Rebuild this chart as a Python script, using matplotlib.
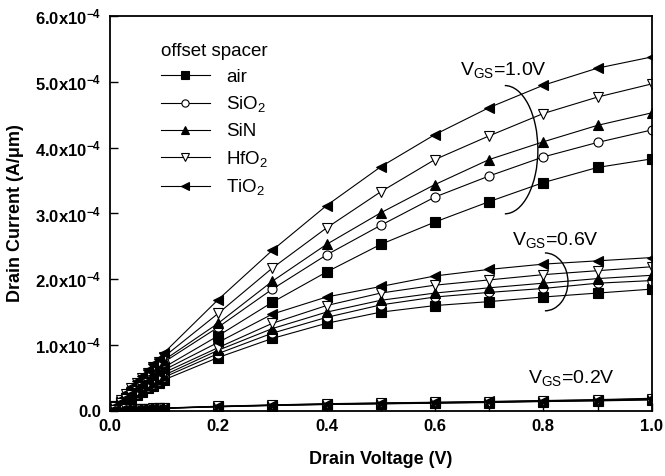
import matplotlib
matplotlib.use('Agg')
import matplotlib.pyplot as plt
from matplotlib.patches import Arc
from matplotlib.ticker import FuncFormatter, MultipleLocator

plt.rcParams['font.family'] = ['Liberation Sans', 'DejaVu Sans']
plt.rcParams['mathtext.default'] = 'regular'

# drain voltage (V)
vd = [0.0, 0.01, 0.02, 0.03, 0.04, 0.05, 0.06, 0.07, 0.08, 0.09, 0.1,
      0.2, 0.3, 0.4, 0.5, 0.6, 0.7, 0.8, 0.9, 1.0]

# drain current in units of 1e-4 A/um, VGS = 1.0 V
air_10 = [0, .07, .13, .20, .27, .33, .40, .46, .53, .59, .66,
          1.14, 1.65, 2.11, 2.53, 2.87, 3.18, 3.47, 3.70, 3.83]
sio2_10 = [0, .07, .15, .22, .30, .37, .45, .52, .59, .67, .74,
           1.27, 1.85, 2.37, 2.82, 3.25, 3.57, 3.86, 4.08, 4.27]
sin_10 = [0, .08, .16, .24, .32, .39, .47, .55, .62, .70, .77,
          1.33, 1.97, 2.53, 3.01, 3.44, 3.82, 4.09, 4.34, 4.53]
hfo2_10 = [0, .08, .17, .25, .34, .42, .50, .58, .66, .74, .82,
           1.48, 2.17, 2.78, 3.33, 3.82, 4.18, 4.52, 4.77, 4.97]
tio2_10 = [0, .09, .18, .27, .36, .45, .53, .62, .71, .79, .88,
           1.69, 2.44, 3.12, 3.71, 4.20, 4.61, 4.95, 5.21, 5.38]

# VGS = 0.6 V
air_06 = [0, .05, .10, .15, .20, .24, .29, .34, .38, .43, .47,
          0.81, 1.10, 1.33, 1.50, 1.60, 1.66, 1.73, 1.79, 1.85]
sio2_06 = [0, .05, .11, .16, .21, .26, .31, .36, .41, .46, .51,
           0.87, 1.18, 1.42, 1.61, 1.73, 1.80, 1.86, 1.94, 1.98]
sin_06 = [0, .06, .11, .17, .22, .28, .33, .39, .44, .49, .54,
          0.92, 1.25, 1.50, 1.68, 1.79, 1.87, 1.94, 2.01, 2.06]
hfo2_06 = [0, .06, .12, .18, .24, .30, .36, .42, .47, .53, .58,
           0.96, 1.33, 1.60, 1.79, 1.91, 1.99, 2.07, 2.13, 2.19]
tio2_06 = [0, .07, .13, .20, .26, .33, .39, .45, .51, .57, .62,
           1.04, 1.47, 1.73, 1.89, 2.05, 2.15, 2.23, 2.28, 2.33]

# VGS = 0.2 V
air_02 = [0, .010, .014, .018, .022, .026, .028, .031, .033, .035, .037,
          .060, .080, .095, .105, .115, .125, .140, .150, .165]
sio2_02 = [0, .010, .014, .019, .023, .027, .029, .032, .034, .036, .038,
           .062, .082, .098, .108, .118, .130, .145, .155, .170]
sin_02 = [0, .010, .015, .019, .023, .027, .030, .033, .035, .037, .039,
          .064, .084, .100, .112, .122, .134, .148, .160, .175]
hfo2_02 = [0, .011, .015, .020, .024, .028, .031, .034, .036, .038, .040,
           .066, .087, .104, .116, .127, .138, .152, .165, .182]
tio2_02 = [0, .011, .016, .020, .025, .029, .032, .035, .037, .040, .042,
           .070, .090, .108, .120, .130, .142, .156, .170, .190]

labels = ['air', 'SiO$_2$', 'SiN', 'HfO$_2$', 'TiO$_2$']
markers = ['s', 'o', '^', 'v', '<']
fills = ['black', 'white', 'black', 'white', 'black']
groups = [
    [air_10, sio2_10, sin_10, hfo2_10, tio2_10],
    [air_06, sio2_06, sin_06, hfo2_06, tio2_06],
    [air_02, sio2_02, sin_02, hfo2_02, tio2_02],
]

fig = plt.figure(figsize=(6.65, 4.76), dpi=100)
ax = fig.add_axes([0.165, 0.137, 0.815, 0.829])

for g, grp in enumerate(groups):
    for i, vals in enumerate(grp):
        ax.plot(vd, [v * 1e-4 for v in vals], color='black', lw=0.8,
                marker=markers[i], markersize=6.5, markerfacecolor=fills[i],
                markeredgecolor='black', markeredgewidth=0.8,
                label=labels[i] if g == 0 else None)

ax.set_xlim(0, 1.0)
ax.set_ylim(0, 6e-4)
ax.xaxis.set_major_locator(MultipleLocator(0.2))
ax.xaxis.set_minor_locator(MultipleLocator(0.1))
ax.yaxis.set_major_locator(MultipleLocator(1e-4))
ax.tick_params(direction='in', length=6, width=1, labelsize=12, pad=6)
ax.tick_params(which='minor', direction='in', length=6, width=1)
for s in ax.spines.values():
    s.set_linewidth(1.3)

def yfmt(v, pos):
    if abs(v) < 1e-12:
        return '0.0'
    return '%.1fx10$^{-4}$' % (v * 1e4)

ax.yaxis.set_major_formatter(FuncFormatter(yfmt))
ax.xaxis.set_major_formatter(FuncFormatter(lambda v, p: '%.1f' % v))
for lab in ax.get_xticklabels() + ax.get_yticklabels():
    lab.set_fontweight('bold')

ax.set_xlabel('Drain Voltage (V)', fontsize=13, fontweight='bold', labelpad=12)
ax.set_ylabel('Drain Current (A/\u03bcm)', fontsize=13, fontweight='bold', labelpad=8)

leg = ax.legend(loc='upper left', title='offset spacer', frameon=False,
                fontsize=13.5, title_fontsize=13.5, handlelength=2.6,
                markerscale=0.8, handletextpad=0.9,
                labelspacing=0.46, borderaxespad=0.3, bbox_to_anchor=(0.07, 0.965))
leg._legend_box.align = 'left'

# VGS annotations with the ellipse brackets
ax.text(0.646, 5.18e-4, 'V$_{GS}$=1.0V', fontsize=14, va='center')
ax.text(0.742, 2.60e-4, 'V$_{GS}$=0.6V', fontsize=14, va='center')
ax.text(0.771, 0.50e-4, 'V$_{GS}$=0.2V', fontsize=14, va='center')
ax.add_patch(Arc((0.729, 3.97e-4), 0.122, 1.95e-4, theta1=-95, theta2=134,
                 color='black', lw=1.0))
ax.add_patch(Arc((0.803, 1.96e-4), 0.085, 0.88e-4, theta1=-130, theta2=138,
                 color='black', lw=1.0))

fig.savefig('out.png', dpi=100)
